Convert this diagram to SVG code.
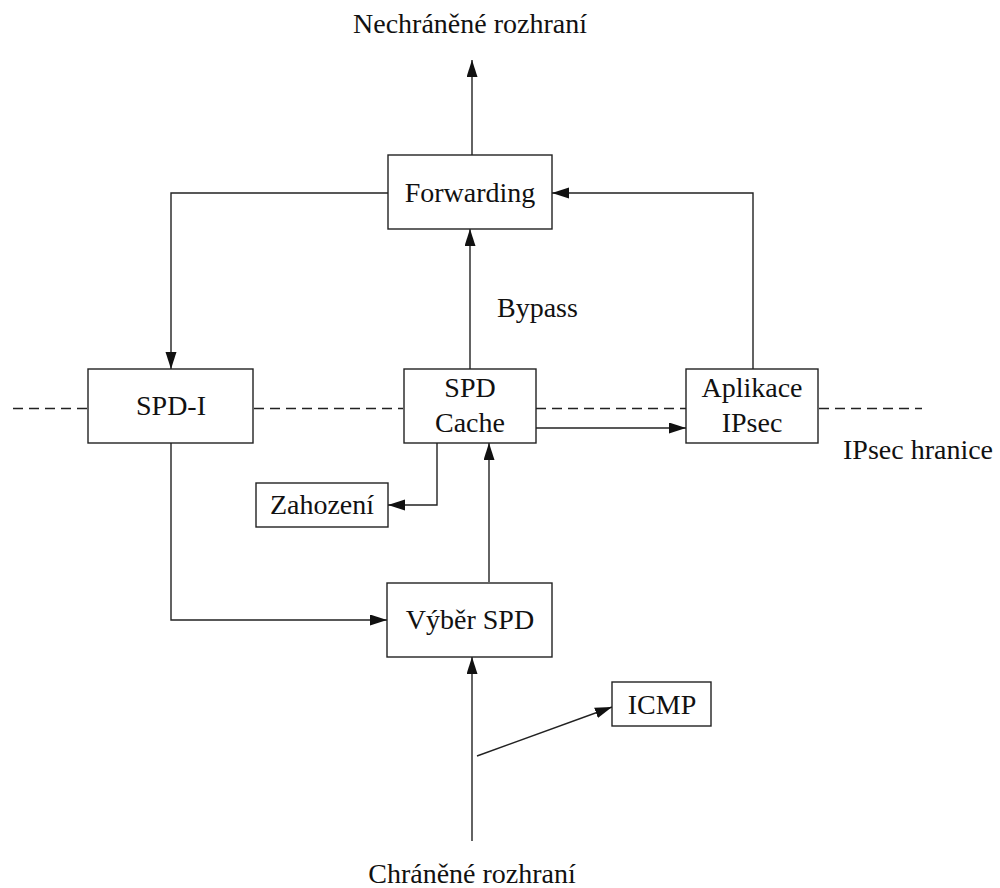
<svg xmlns="http://www.w3.org/2000/svg" width="1000" height="888" viewBox="0 0 1000 888">
  <style>
    .box { fill: #ffffff; stroke: #222222; stroke-width: 1.4; }
    .lbl { font-family: "Liberation Serif", "Times New Roman", serif; font-size: 28px; fill: #111111; }
    .mid { text-anchor: middle; }
    .edge { fill: none; stroke: #222222; stroke-width: 1.4; }
    .arrow { marker-end: url(#head); }
    .boundary { fill: none; stroke: #222222; stroke-width: 1.3; stroke-dasharray: 10 6; }
  </style>
  <defs>
    <marker id="head" markerUnits="userSpaceOnUse" markerWidth="18" markerHeight="12" refX="17" refY="5.5" orient="auto">
      <path d="M0,0 L17,5.5 L0,11 z" fill="#111111"/>
    </marker>
  </defs>

  <rect width="1000" height="888" fill="#ffffff"/>

  <!-- IPsec boundary (dashed) -->
  <g id="boundary">
    <line class="boundary" x1="13" y1="408.5" x2="88" y2="408.5"/>
    <line class="boundary" x1="254" y1="408.5" x2="403" y2="408.5"/>
    <line class="boundary" x1="536" y1="408.5" x2="686" y2="408.5"/>
    <line class="boundary" x1="819" y1="408.5" x2="922" y2="408.5"/>
    <text class="lbl" x="843" y="459">IPsec hranice</text>
  </g>

  <!-- free labels -->
  <text class="lbl mid" x="470" y="33">Nechráněné rozhraní</text>
  <text class="lbl mid" x="472" y="883">Chráněné rozhraní</text>
  <text class="lbl" x="497" y="317">Bypass</text>

  <!-- connectors -->
  <g id="connectors">
    <line class="edge arrow" x1="472" y1="155" x2="472" y2="60"/>
    <polyline class="edge arrow" points="388,193 171,193 171,369"/>
    <polyline class="edge arrow" points="753,369 753,193 552,193"/>
    <line class="edge arrow" x1="470" y1="369" x2="470" y2="229"/>
    <line class="edge arrow" x1="536" y1="428" x2="686" y2="428"/>
    <polyline class="edge arrow" points="437,443 437,505 388,505"/>
    <polyline class="edge arrow" points="171,443 171,620 387,620"/>
    <line class="edge arrow" x1="489" y1="582" x2="489" y2="443"/>
    <line class="edge arrow" x1="472" y1="841" x2="472" y2="657"/>
    <line class="edge arrow" x1="477" y1="756" x2="612" y2="707"/>
  </g>

  <!-- nodes -->
  <g id="forwarding">
    <rect class="box" x="388" y="155" width="164" height="74"/>
    <text class="lbl mid" x="470" y="202">Forwarding</text>
  </g>
  <g id="spd-i">
    <rect class="box" x="88" y="369" width="165" height="74"/>
    <text class="lbl mid" x="171" y="415">SPD-I</text>
  </g>
  <g id="spd-cache">
    <rect class="box" x="404" y="369" width="132" height="74"/>
    <text class="lbl mid" x="470" y="397">SPD</text>
    <text class="lbl mid" x="470" y="432">Cache</text>
  </g>
  <g id="aplikace-ipsec">
    <rect class="box" x="686" y="369" width="132" height="74"/>
    <text class="lbl mid" x="752" y="397">Aplikace</text>
    <text class="lbl mid" x="752" y="432">IPsec</text>
  </g>
  <g id="zahozeni">
    <rect class="box" x="256" y="483" width="132" height="44"/>
    <text class="lbl mid" x="322" y="514">Zahození</text>
  </g>
  <g id="vyber-spd">
    <rect class="box" x="387" y="583" width="165" height="74"/>
    <text class="lbl mid" x="470" y="629">Výběr SPD</text>
  </g>
  <g id="icmp">
    <rect class="box" x="612" y="682" width="99" height="44"/>
    <text class="lbl mid" x="662" y="714">ICMP</text>
  </g>
</svg>
